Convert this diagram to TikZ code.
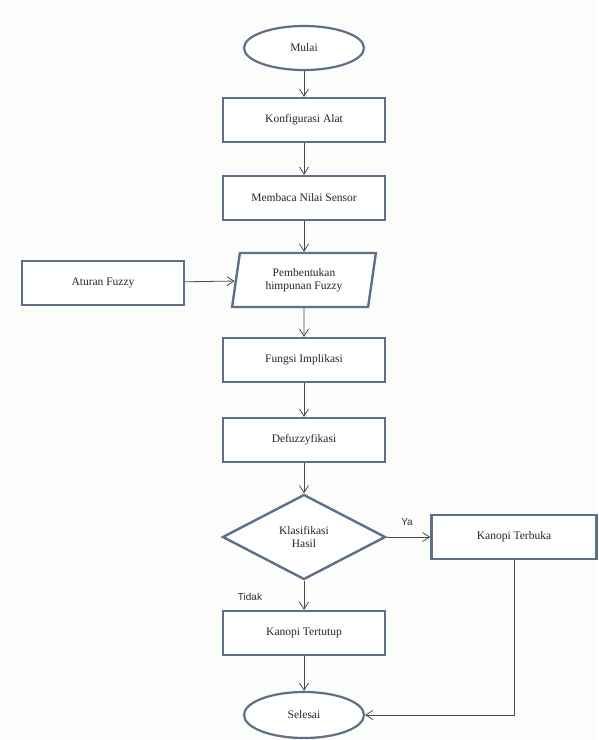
\documentclass[tikz,border=0pt]{standalone}
\usepackage{fontspec}
\setmainfont{Liberation Serif}
\newfontfamily\labfont{Liberation Sans}
\usetikzlibrary{shapes.geometric,arrows.meta}
\definecolor{edge}{HTML}{5E7089}
\definecolor{line}{HTML}{4A4A4A}
\definecolor{bg}{HTML}{FCFCFA}
\tikzset{
  txt/.style={font=\fontsize{11.5}{13.5}\selectfont,text=black!85},
  proc/.style={txt,draw=edge,line width=2.4pt,fill=white,minimum width=162pt,minimum height=44pt,inner sep=2pt},
  term/.style={txt,draw=edge,line width=2.2pt,fill=white,ellipse,minimum width=120pt,minimum height=44pt,inner sep=0pt},
  io/.style={txt,draw=edge,line width=2.4pt,fill=white,trapezium,trapezium left angle=79,trapezium right angle=101,trapezium stretches=true,minimum width=145pt,minimum height=54pt,inner sep=0pt,align=center},
  dec/.style={txt,draw=edge,line width=2.4pt,fill=white,diamond,minimum width=163pt,minimum height=85pt,aspect=1.92,inner sep=0pt,align=center},
  flow/.style={draw=line,line width=0.8pt,-{Straight Barb[length=7pt,width=9pt]}},
  lab/.style={font=\labfont\fontsize{10}{12}\selectfont,text=black!80}
}
\begin{document}
\begin{tikzpicture}[x=1pt,y=-1pt]
\fill[bg] (0,0) rectangle (598,740);
\useasboundingbox (0,0) rectangle (598,740);
\node[term] (mulai) at (304,48) {Mulai};
\node[proc] (konf) at (304,120) {Konfigurasi Alat};
\node[proc] (baca) at (304,198) {Membaca Nilai Sensor};
\node[io] (pemb) at (304,280) {Pembentukan\\himpunan Fuzzy};
\node[proc] (atur) at (103,283) {Aturan Fuzzy};
\node[proc] (impl) at (304,360) {Fungsi Implikasi};
\node[proc] (defz) at (304,440) {Defuzzyfikasi};
\node[dec] (klas) at (304,537) {Klasifikasi\\Hasil};
\node[proc,minimum width=165pt] (buka) at (514,537) {Kanopi Terbuka};
\node[proc] (tutup) at (304,633) {Kanopi Tertutup};
\node[term,minimum height=46pt] (selesai) at (304,715) {Selesai};
\node[lab] (ya) at (407,522) {Ya};
\node[lab] (tidak) at (250,597) {Tidak};
\draw[flow] (mulai) -- (konf);
\draw[flow] (konf) -- (baca);
\draw[flow] (baca) -- (pemb);
\draw[flow] (atur) -- (pemb);
\draw[flow] (pemb) -- (impl);
\draw[flow] (impl) -- (defz);
\draw[flow] (defz) -- (klas);
\draw[flow] (klas) -- (buka);
\draw[flow] (klas) -- (tutup);
\draw[flow] (tutup) -- (selesai);
\draw[flow] (buka.south) |- (selesai.east);
\end{tikzpicture}
\end{document}
